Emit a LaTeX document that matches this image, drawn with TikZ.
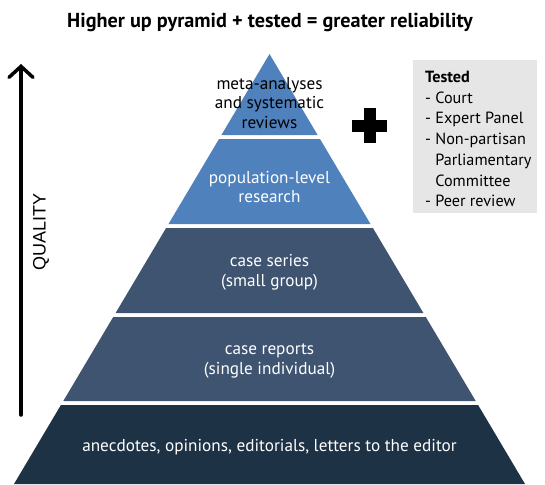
\documentclass[tikz,border=0pt]{standalone}
\usepackage{fontspec}
\setmainfont{PT Sans}
\newfontfamily\qualfont{Liberation Sans}
\usetikzlibrary{arrows.meta}
\definecolor{tierlight}{RGB}{79,129,189}
\definecolor{tiermid}{RGB}{62,84,112}
\definecolor{tierdark}{RGB}{30,50,70}
\definecolor{boxgray}{RGB}{230,230,230}
\tikzset{
  tiertext/.style={align=center,font=\fontsize{17.2}{19.8}\selectfont,text=white,inner sep=0pt},
  listtext/.style={align=left,font=\fontsize{16.2}{20.7}\selectfont,inner sep=0pt,anchor=north west},
}
\begin{document}
\begin{tikzpicture}[x=1pt,y=-1pt]
\useasboundingbox (0,0) rectangle (545,484);
\fill[white] (0,0) rectangle (545,484);

% title
\node[font=\fontsize{20.2}{22}\selectfont\bfseries,inner sep=0pt] (title) at (270,22) {Higher up pyramid + tested = greater reliability};

% pyramid tiers, separated by thin white gaps
\fill[tierlight] (269.5,54) -- (317.6,135) -- (221.4,135) -- cycle;
\fill[tierlight] (219,139) -- (320,139) -- (370.5,224) -- (168.5,224) -- cycle;
\fill[tiermid] (166.1,228) -- (372.9,228) -- (423.4,313) -- (115.6,313) -- cycle;
\fill[tiermid] (113.2,317) -- (425.8,317) -- (475.7,401) -- (63.3,401) -- cycle;
\fill[tierdark] (60.9,405) -- (478.1,405) -- (525,484) -- (14,484) -- cycle;

\node[tiertext,text=black] (t1) at (269.5,103) {meta-analyses\\and systematic\\reviews};
\node[tiertext] (t2) at (269.5,187) {population-level\\research};
\node[tiertext] (t3) at (269.5,272) {case series\\(small group)};
\node[tiertext] (t4) at (269.5,361) {case reports\\(single individual)};
\node[tiertext] (t5) at (269.5,447) {anecdotes, opinions, editorials, letters to the editor};

% quality axis
\coordinate (qbot) at (21,415);
\coordinate (qtop) at (21,64);
\draw[line width=3.5pt,line cap=round,-{Straight Barb[length=11pt,width=24pt,line cap=round]}] (qbot) -- (qtop);
\node[font=\qualfont\fontsize{18}{20}\selectfont,rotate=90,inner sep=0pt] (quality) at (41,232) {QUALITY};

% plus sign
\fill[black] (363.5,108) rectangle (375.5,143);
\fill[black] (352,119.5) rectangle (387,131.5);
\node[inner sep=0pt,minimum size=35pt] (plus) at (369.5,125.5) {};

% tested box
\fill[boxgray] (413,60) rectangle (537,213);
\node[listtext] (tested) at (425,71) {\textbf{Tested}\\- Court\\- Expert Panel\\- Non-partisan\\\phantom{- }Parliamentary\\\phantom{- }Committee\\- Peer review};
\end{tikzpicture}
\end{document}
